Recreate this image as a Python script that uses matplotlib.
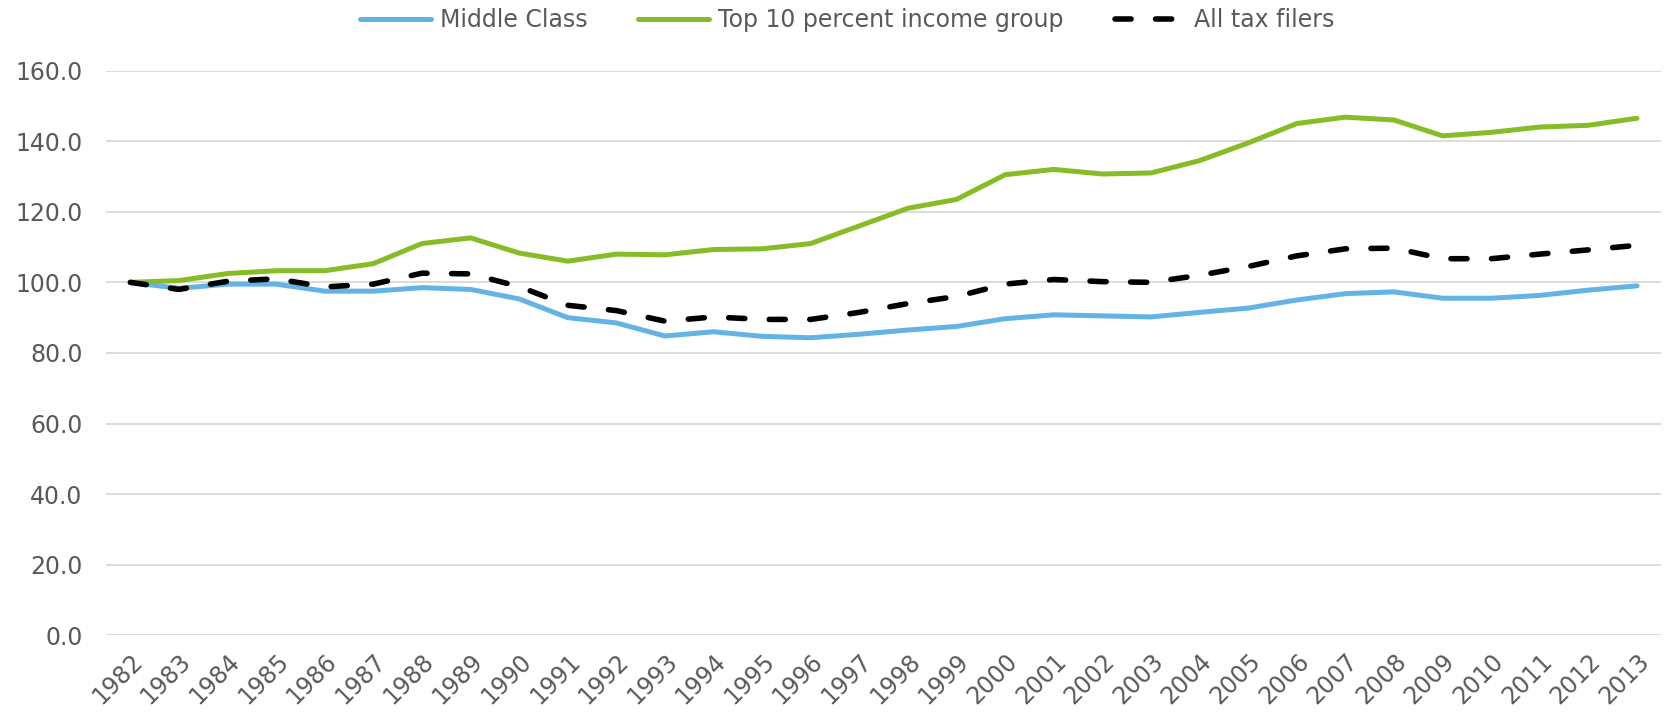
import matplotlib.pyplot as plt
import numpy as np

years = [str(y) for y in range(1982, 2014)]

middle_class = [100.0, 98.3, 99.5, 99.5, 97.5, 97.5, 98.5, 98.0, 95.3, 90.0,
                88.5, 84.8, 86.0, 84.7, 84.3, 85.3, 86.5, 87.5, 89.7, 90.8,
                90.5, 90.2, 91.5, 92.7, 95.0, 96.8, 97.3, 95.5, 95.5, 96.3,
                97.8, 99.0]
top_10 = [100.0, 100.5, 102.5, 103.3, 103.3, 105.3, 111.0, 112.6, 108.3, 106.0,
          108.0, 107.8, 109.3, 109.5, 111.0, 116.0, 121.0, 123.5, 130.5, 132.0,
          130.7, 131.0, 134.5, 139.5, 145.0, 146.8, 146.0, 141.5, 142.5, 144.0,
          144.5, 146.5]
all_filers = [100.0, 98.0, 100.3, 101.0, 98.7, 99.5, 102.6, 102.4, 98.8, 93.5,
              92.0, 89.0, 90.2, 89.5, 89.5, 91.5, 94.0, 96.0, 99.5, 100.8,
              100.2, 100.0, 102.0, 104.5, 107.5, 109.5, 109.7, 106.7, 106.7, 108.0,
              109.2, 110.5]

text_color = '#595959'

fig = plt.figure(figsize=(16.67, 7.13), dpi=100)
ax = fig.add_axes([0.0636, 0.109, 0.933, 0.792])

x = np.arange(len(years))
ax.plot(x, middle_class, color='#63b4e4', lw=3.6, solid_capstyle='round',
        label='Middle Class', zorder=3)
ax.plot(x, top_10, color='#86bc25', lw=3.6, solid_capstyle='round',
        label='Top 10 percent income group', zorder=3)
line, = ax.plot(x, all_filers, color='black', lw=4.0, dash_capstyle='round',
                label='All tax filers', zorder=4)
line.set_dashes([2.9, 4.4])

ax.set_xlim(-0.5, len(years) - 0.5)
ax.set_ylim(0, 160)
ax.set_yticks(np.arange(0, 161, 20))
ax.set_yticklabels(['%.1f' % v for v in np.arange(0, 161, 20)])
ax.set_xticks(x)
ax.set_xticklabels(years, rotation=45, ha='right', rotation_mode='anchor')

ax.grid(axis='y', color='#d9d9d9', lw=1.3)
ax.set_axisbelow(True)
for s in ax.spines.values():
    s.set_visible(False)
ax.tick_params(axis='both', length=0, colors=text_color, labelsize=17)
ax.tick_params(axis='y', pad=17)
ax.tick_params(axis='x', pad=10)

fig.legend(loc='center', bbox_to_anchor=(0.5084, 0.972), ncol=3, frameon=False,
           fontsize=17, labelcolor=text_color, handlelength=3.0,
           columnspacing=2.15, handletextpad=0.38)

fig.savefig('out.png', dpi=100)
